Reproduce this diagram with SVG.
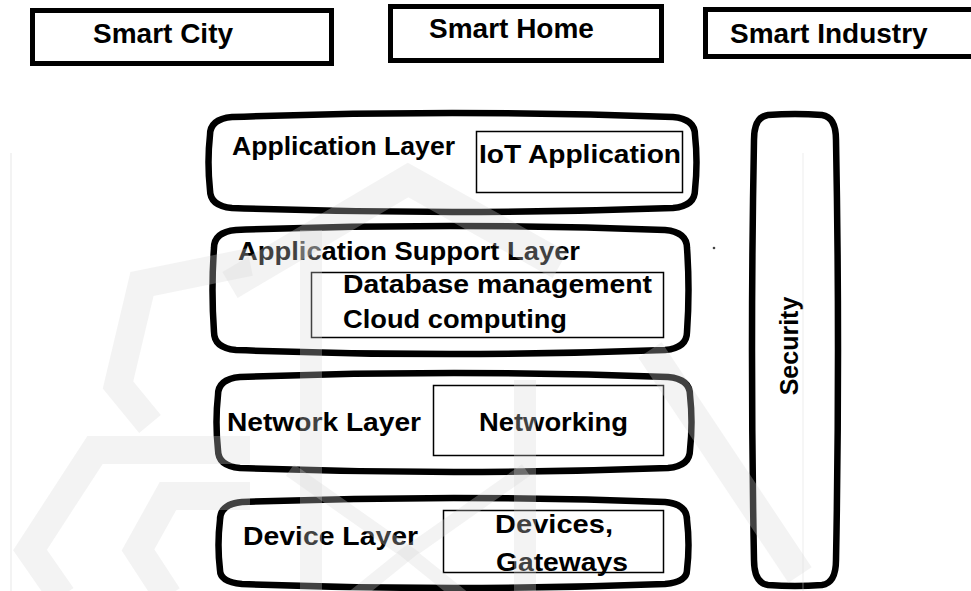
<svg xmlns="http://www.w3.org/2000/svg" width="971" height="591" viewBox="0 0 971 591">
  <style>
    .t { font-family: "Liberation Sans", Arial, sans-serif; font-weight: bold; fill: #000; }
    .top { font-size: 28px; }
    .lay { font-size: 25px; }
    .frame { fill: #fff; stroke: #000; stroke-width: 5; }
    .layer { fill: #fff; stroke: #000; stroke-width: 6.5; stroke-linejoin: round; }
    .inner { fill: none; stroke: #000; stroke-width: 1.5; }
    .wm { fill: none; stroke: #d6d6d6; stroke-linejoin: miter; opacity: 0.3; }
  </style>

  <rect width="971" height="591" fill="#fff"/>

  <!-- application domains -->
  <g id="smart-city">
    <rect class="frame" x="32.5" y="10.5" width="299" height="53"/>
    <text class="t top" x="93" y="43">Smart City</text>
  </g>
  <g id="smart-home">
    <rect class="frame" x="390.5" y="6.5" width="271" height="54"/>
    <text class="t top" x="429" y="38">Smart Home</text>
  </g>
  <g id="smart-industry">
    <rect class="frame" x="705.5" y="9.5" width="275" height="47"/>
    <text class="t top" x="730" y="43">Smart Industry</text>
  </g>

  <!-- layer stack -->
  <g id="application-layer">
    <path class="layer" d="M232,117 Q452,109 673,117 Q695,119 695,135 Q698,162 695,190 Q695,206 673,208 Q452,216 232,208 Q210,206 210,190 Q207,162 210,135 Q210,119 232,117 Z"/>
    <text class="t lay" x="232" y="155" textLength="223" lengthAdjust="spacingAndGlyphs">Application Layer</text>
    <rect class="inner" x="476.5" y="131.5" width="206" height="61"/>
    <text class="t lay" x="479" y="163" textLength="202" lengthAdjust="spacingAndGlyphs">IoT Application</text>
  </g>

  <g id="application-support-layer">
    <path class="layer" d="M236,230 Q450,222 665,230 Q687,232 687,248 Q690,290 687,332 Q687,348 665,350 Q450,358 236,350 Q214,348 214,332 Q211,290 214,248 Q214,232 236,230 Z"/>
    <text class="t lay" x="238" y="260" textLength="342" lengthAdjust="spacingAndGlyphs">Application Support Layer</text>
    <rect class="inner" x="311.5" y="272.5" width="352" height="65"/>
    <text class="t lay" x="343" y="293" textLength="309" lengthAdjust="spacingAndGlyphs">Database management</text>
    <text class="t lay" x="343" y="328" textLength="224" lengthAdjust="spacingAndGlyphs">Cloud computing</text>
  </g>

  <g id="network-layer">
    <path class="layer" d="M240,377 Q454,369 668,377 Q690,379 690,395 Q693,422 690,450 Q690,466 668,468 Q454,476 240,468 Q218,466 218,450 Q215,422 218,395 Q218,379 240,377 Z"/>
    <text class="t lay" x="227" y="431" textLength="194" lengthAdjust="spacingAndGlyphs">Network Layer</text>
    <rect class="inner" x="433.5" y="385.5" width="230" height="70"/>
    <text class="t lay" x="479" y="431" textLength="149" lengthAdjust="spacingAndGlyphs">Networking</text>
  </g>

  <g id="device-layer">
    <path class="layer" d="M242,502 Q454,494 665,502 Q687,504 687,520 Q690,545 687,570 Q687,582 665,584 Q454,592 242,584 Q220,582 220,570 Q217,545 220,520 Q220,504 242,502 Z"/>
    <text class="t lay" x="243" y="545" textLength="175" lengthAdjust="spacingAndGlyphs">Device Layer</text>
    <rect class="inner" x="443.5" y="510.5" width="220" height="62"/>
    <text class="t lay" x="495" y="533" textLength="118" lengthAdjust="spacingAndGlyphs">Devices,</text>
    <text class="t lay" x="496" y="571" textLength="132" lengthAdjust="spacingAndGlyphs">Gateways</text>
  </g>

  <!-- cross-cutting concern -->
  <g id="security">
    <path class="layer" d="M768,115 Q795,113 822,115 Q836,117 836,140 Q840,350 836,560 Q836,583 822,585 Q795,587 768,585 Q754,583 754,560 Q750,350 754,140 Q754,117 768,115 Z"/>
    <text class="t lay" transform="translate(798,346) rotate(-90)" text-anchor="middle">Security</text>
  </g>

  <circle cx="714" cy="248" r="1.3" fill="#444"/>

  <!-- faint background emblem -->
  <g id="emblem">
    <line class="wm" x1="11" y1="153" x2="11" y2="591" stroke-width="2"/>
    <line class="wm" x1="803" y1="153" x2="803" y2="591" stroke-width="1.5"/>
    <polyline class="wm" stroke-width="28" points="250,262 142,284 118,385 150,424"/>
    <polyline class="wm" stroke-width="28" points="250,450 95,450 30,550 62,596"/>
    <polyline class="wm" stroke-width="28" points="250,496 168,496 138,550 168,596"/>
    <polyline class="wm" stroke-width="30" points="230,285 408,180 560,265"/>
    <line class="wm" x1="311" y1="230" x2="311" y2="591" stroke-width="22"/>
    <line class="wm" x1="525" y1="380" x2="525" y2="591" stroke-width="22"/>
    <polyline class="wm" stroke-width="14" points="290,470 408,553 300,640"/>
    <polyline class="wm" stroke-width="14" points="526,470 408,553 516,640"/>
    <line class="wm" x1="650" y1="350" x2="800" y2="575" stroke-width="28"/>
  </g>
</svg>
